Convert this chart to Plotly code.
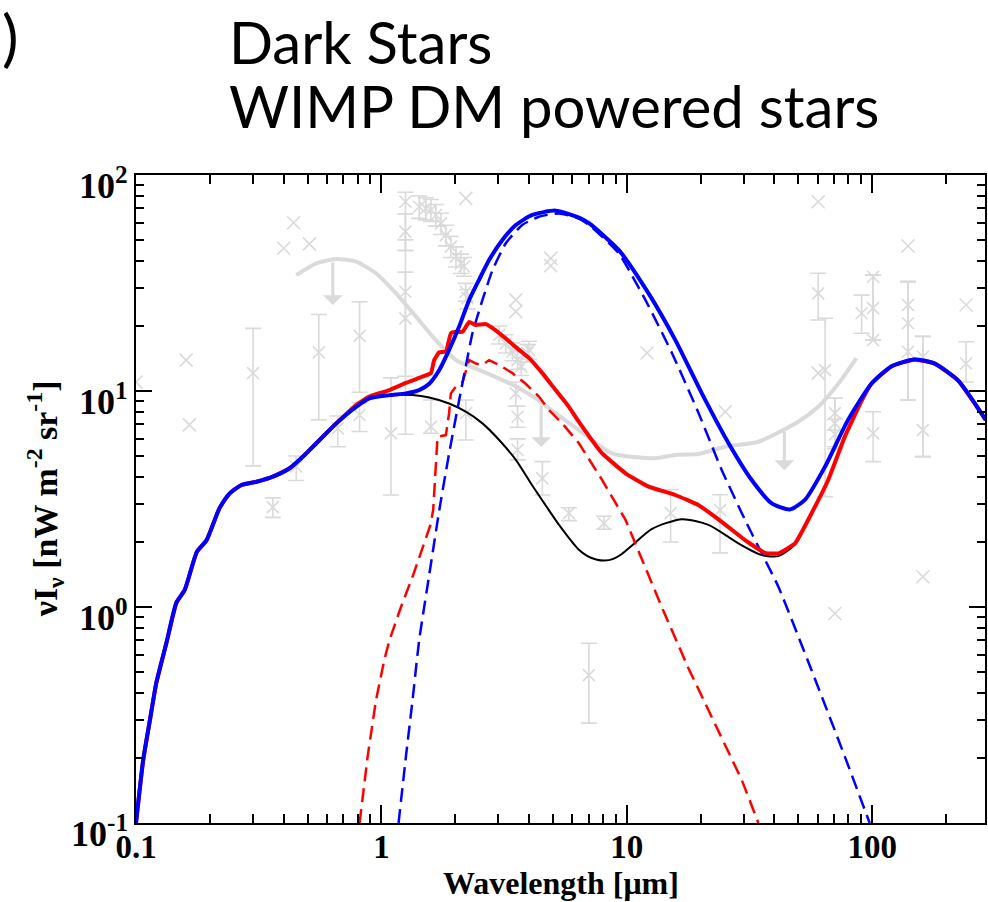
import math
import plotly.graph_objects as go

# ---------------- model spectra (wavelength in micron, nu I_nu in nW m^-2 sr^-1) -------------
wl_total_hi = [0.1, 0.107, 0.114, 0.121, 0.133, 0.146, 0.158, 0.177, 0.194, 0.219, 0.241, 0.269,
               0.310, 0.361, 0.423, 0.479, 0.543, 0.655, 0.789, 0.893, 1.079, 1.259, 1.426, 1.567,
               1.722, 1.888, 2.075, 2.280, 2.500, 2.748, 3.112, 3.532, 4.121, 5.129, 6.383, 7.015,
               9.268, 12.27, 15.78, 20.23, 26.0, 32.3, 39.0, 46.2, 53.2, 64.3, 79.8, 99.3, 119.7,
               148.9, 179.9, 223.9, 290.4]
flux_total_hi = [0.1, 0.196, 0.300, 0.445, 0.681, 1.045, 1.20, 1.80, 2.04, 2.87, 3.36, 3.67,
                 3.80, 4.01, 4.39, 4.97, 5.73, 7.08, 8.45, 9.25, 9.57, 9.75, 10.1, 10.8,
                 12.5, 15.5, 19.9, 26.4, 32.7, 40.4, 50.0, 58.7, 65.3, 68.4, 63.5, 59.8,
                 45.0, 28.3, 17.2, 9.75, 5.73, 3.87, 3.02, 2.83, 3.13, 4.47, 7.35, 10.8, 13.0,
                 14.0, 13.4, 11.2, 7.35]

wl_total_lo = [0.1, 0.107, 0.114, 0.121, 0.133, 0.146, 0.158, 0.177, 0.194, 0.219, 0.241, 0.269,
               0.310, 0.361, 0.423, 0.479, 0.543, 0.655, 0.789, 0.893, 1.079, 1.259, 1.426, 1.592,
               1.641, 1.722, 1.832, 1.919, 2.014, 2.143, 2.280, 2.427, 2.667, 2.924, 3.214, 3.639,
               4.000, 4.529, 5.129, 5.808, 6.383, 7.943, 9.886, 12.27, 15.78, 19.63, 24.38, 30.34,
               36.64, 41.5, 48.5, 56.6, 66.2, 77.4, 90.6, 99.3, 119.7, 148.9, 179.9, 223.9, 290.4]
flux_total_lo = [0.1, 0.196, 0.300, 0.445, 0.681, 1.045, 1.20, 1.80, 2.04, 2.87, 3.36, 3.67,
                 3.80, 4.01, 4.39, 4.97, 5.73, 7.08, 8.61, 9.42, 10.1, 10.9, 11.5, 12.1,
                 13.9, 15.1, 15.2, 18.5, 18.8, 18.8, 20.9, 20.2, 20.4, 19.1, 17.5, 15.5,
                 14.2, 12.1, 10.1, 8.45, 7.2, 5.14, 4.16, 3.61, 3.30, 2.96, 2.48, 2.04,
                 1.78, 1.77, 1.97, 2.71, 3.87, 6.15, 9.0, 10.8, 13.0, 14.0, 13.4, 11.2, 7.35]

wl_background = [0.1, 0.107, 0.114, 0.121, 0.133, 0.146, 0.158, 0.177, 0.194, 0.219, 0.241, 0.269,
                 0.310, 0.361, 0.423, 0.479, 0.543, 0.655, 0.789, 0.893, 1.079, 1.340, 1.567, 1.888,
                 2.208, 2.582, 3.020, 3.532, 4.121, 4.677, 5.297, 6.383, 6.92, 7.50, 8.13, 8.81,
                 9.55, 10.47, 12.68, 16.79, 21.53, 28.51, 35.48, 41.5, 48.5, 56.6, 66.2, 77.4,
                 90.6, 99.3, 119.7, 148.9, 179.9, 223.9, 290.4]
flux_background = [0.1, 0.196, 0.300, 0.445, 0.681, 1.045, 1.20, 1.80, 2.04, 2.87, 3.36, 3.67,
                   3.80, 4.01, 4.39, 4.97, 5.73, 7.08, 8.45, 9.25, 9.57, 9.57, 9.33, 8.75,
                   8.02, 7.08, 5.93, 4.80, 3.65, 2.95, 2.40, 1.84, 1.72, 1.66, 1.64, 1.67,
                   1.76, 1.92, 2.30, 2.55, 2.40, 1.97, 1.74, 1.72, 1.95, 2.70, 3.87, 6.15,
                   9.0, 10.8, 13.0, 14.0, 13.4, 11.2, 7.35]

wl_ds_lo = [0.815, 0.879, 0.951, 1.028, 1.079, 1.202, 1.349, 1.479, 1.585, 1.626, 1.667, 1.694,
            1.832, 1.888, 1.919, 2.014, 2.143, 2.280, 2.427, 2.582, 2.748, 3.020, 3.420, 3.873,
            4.385, 4.819, 5.458, 6.383, 7.943, 9.886, 11.56, 14.13, 17.78, 22.39, 29.44, 34.4]
flux_ds_lo = [0.1, 0.203, 0.371, 0.569, 0.703, 1.0, 1.41, 1.91, 2.40, 2.81, 4.80, 6.15,
              6.25, 7.89, 9.75, 10.5, 11.0, 13.9, 13.4, 13.2, 13.9, 13.2, 12.1, 10.8,
              9.42, 8.17, 7.08, 5.73, 3.87, 2.53, 1.65, 0.955, 0.525, 0.302, 0.158, 0.1]

wl_ds_hi = [1.175, 1.259, 1.340, 1.426, 1.567, 1.722, 1.888, 2.075, 2.208, 2.350, 2.582, 2.838,
            3.214, 3.750, 4.385, 5.297, 6.310, 7.015, 9.268, 11.91, 15.28, 19.63, 24.38, 30.34,
            36.64, 41.5, 56.6, 77.4, 97.7]
flux_ds_hi = [0.1, 0.203, 0.371, 0.703, 1.41, 2.81, 5.14, 9.08, 13.0, 18.5, 26.4, 36.3,
              48.3, 58.7, 64.1, 66.4, 63.1, 58.7, 43.4, 26.4, 15.0, 7.89, 4.31, 2.53,
              1.65, 1.24, 0.511, 0.203, 0.1]

# ---------------- observational limits and measurements -------------------------------------
wl_limit = [0.450, 0.543, 0.655, 0.789, 0.951, 1.148, 1.384, 1.667, 2.014, 2.427, 2.924, 3.532,
            4.256, 5.129, 6.383, 8.71, 13.06, 15.78, 19.63, 25.2, 34.4, 50.0, 60.3, 72.8, 86.3]
flux_limit = [34.4, 39.0, 40.8, 39.7, 35.1, 28.3, 22.1, 17.2, 13.9, 12.7, 11.6, 10.5,
              9.25, 7.89, 6.59, 5.14, 4.88, 5.06, 5.11, 5.52, 5.82, 7.21, 8.45, 10.8, 14.2]

arrow_wl = [0.634, 4.48, 43.9]
arrow_from = [40.0, 8.7, 6.6]
arrow_to = [25.0, 5.5, 4.3]

obs_wl = [0.300, 0.556, 0.815, 0.664, 0.815, 0.450, 0.361, 1.094, 1.253, 1.253, 1.253, 1.253,
          1.592, 1.426, 1.517, 1.592, 1.667, 1.750, 1.832, 1.919, 2.014, 2.109, 2.173, 2.208,
          2.244, 3.02, 3.21, 3.42, 3.59, 3.71, 3.94, 4.00, 3.53, 3.59, 3.59, 4.53, 2.21,
          7.01, 60.3, 64.3, 70.5, 70.5, 70.5, 90.6, 100.9, 100.9, 100.9, 100.9, 140.0, 140.0,
          140.0, 161.0, 161.0, 241.5, 5.81, 8.07, 15.1, 24.0]
obs_val = [12.1, 15.1, 18.0, 6.71, 7.74, 4.47, 2.90, 6.37, 75.2, 54.7, 28.8, 21.7,
           6.84, 71.3, 70.1, 68.9, 65.3, 59.7, 52.7, 46.6, 41.9, 39.0, 37.7, 28.8,
           26.9, 18.2, 16.6, 15.2, 13.9, 13.0, 15.0, 15.5, 9.75, 7.60, 5.33, 3.94, 7.89,
           0.484, 28.3, 12.5, 7.08, 7.9, 6.3, 22.9, 33.8, 24.2, 17.2, 6.37, 25.0, 20.6,
           15.2, 14.4, 6.59, 13.4, 2.72, 2.44, 2.72, 2.81]
obs_lo = [4.50, 7.35, 9.86, 5.52, 6.49, 3.85, 2.60, 3.30, 44.7, 44.7, 11.7, 6.31,
          6.37, 63.0, 62.0, 61.0, 58.0, 53.0, 47.0, 41.5, 37.5, 35.0, 34.0, 26.0,
          24.0, 16.5, 15.0, 13.8, 12.6, 11.8, 13.6, 14.0, 8.5, 6.8, 4.8, 3.30, 5.93,
          0.290, 21.3, 3.24, 5.52, 6.6, 5.4, 18.5, 17.2, 17.2, 17.2, 4.71, 9.08, 9.08,
          9.08, 4.97, 4.97, 11.0, 2.51, 2.29, 2.0, 1.78]
obs_hi = [19.5, 22.6, 25.9, 7.66, 8.83, 5.00, 3.20, 11.5, 83.2, 66.1, 50.1, 35.5,
          9.08, 80.0, 78.5, 77.0, 73.0, 66.5, 58.5, 52.0, 46.5, 43.0, 41.5, 31.5,
          29.5, 20.0, 18.2, 16.7, 15.3, 14.3, 16.4, 17.0, 11.0, 8.5, 6.0, 4.71, 9.08,
          0.679, 35.1, 21.7, 9.25, 9.25, 7.4, 27.8, 34.4, 34.4, 34.4, 8.02, 32.1, 32.1,
          32.1, 17.9, 17.9, 16.9, 2.88, 2.63, 3.5, 3.31]

single_wl = [0.1, 0.160, 0.165, 0.400, 0.439, 0.509, 2.208, 3.53, 3.53, 4.90, 4.90, 60.3,
             140.0, 60.3, 241.5, 12.1, 25.2, 161.0, 70.5]
single_val = [11.0, 13.9, 6.97, 45.8, 60.1, 48.0, 78.0, 26.4, 23.3, 41.1, 38.0, 75.2,
              46.9, 12.1, 25.0, 15.0, 8.02, 1.38, 0.933]

# ---------------- axis labelling -------------------------------------------------------------
x_major = [0.1, 1, 10, 100]
x_major_text = ["0.1", "1", "10", "100"]
x_minor = [0.2, 0.3, 0.4, 0.5, 0.6, 0.7, 0.8, 0.9, 2, 3, 4, 5, 6, 7, 8, 9,
           20, 30, 40, 50, 60, 70, 80, 90, 200]
y_major = [0.1, 1, 10, 100]
y_major_text = ["10<sup>-1</sup>", "10<sup>0</sup>", "10<sup>1</sup>", "10<sup>2</sup>"]
y_minor = [0.2, 0.3, 0.4, 0.5, 0.6, 0.7, 0.8, 0.9, 2, 3, 4, 5, 6, 7, 8, 9,
           20, 30, 40, 50, 60, 70, 80, 90]

GREY = "#dadada"
SERIF = "Liberation Serif"

fig = go.Figure()

# measurements with error bars
fig.add_trace(go.Scatter(
    x=obs_wl, y=obs_val, mode="markers",
    marker=dict(symbol="x-thin", size=12, line=dict(width=1.6, color=GREY)),
    error_y=dict(type="data", symmetric=False,
                 array=[h - v for h, v in zip(obs_hi, obs_val)],
                 arrayminus=[v - l for v, l in zip(obs_val, obs_lo)],
                 color=GREY, thickness=1.6, width=8),
    hoverinfo="skip"))
fig.add_trace(go.Scatter(
    x=single_wl, y=single_val, mode="markers",
    marker=dict(symbol="x-thin", size=13, line=dict(width=1.6, color=GREY)),
    hoverinfo="skip"))

# upper-limit curve
fig.add_trace(go.Scatter(x=wl_limit, y=flux_limit, mode="lines",
                         line=dict(color=GREY, width=4, shape="spline", smoothing=0.6)))

# model curves
fig.add_trace(go.Scatter(x=wl_background, y=flux_background, mode="lines",
                         line=dict(color="black", width=2, shape="spline", smoothing=0.7)))
fig.add_trace(go.Scatter(x=wl_ds_lo, y=flux_ds_lo, mode="lines",
                         line=dict(color="#ff0000", width=2.5, dash="14px,7px")))
fig.add_trace(go.Scatter(x=wl_ds_hi, y=flux_ds_hi, mode="lines",
                         line=dict(color="#0000ff", width=2.5, dash="14px,7px",
                                   shape="spline", smoothing=0.5)))
fig.add_trace(go.Scatter(x=wl_total_lo, y=flux_total_lo, mode="lines",
                         line=dict(color="#ff0000", width=4, shape="spline", smoothing=0.35)))
fig.add_trace(go.Scatter(x=wl_total_hi, y=flux_total_hi, mode="lines",
                         line=dict(color="#0000ff", width=4, shape="spline", smoothing=0.6)))

annotations = []

# downward arrows on the limit curve
for w, a, b in zip(arrow_wl, arrow_from, arrow_to):
    annotations.append(dict(
        x=math.log10(w), y=math.log10(b), ax=math.log10(w), ay=math.log10(a),
        xref="x", yref="y", axref="x", ayref="y", text="", showarrow=True,
        arrowhead=1, arrowsize=1.1, arrowwidth=3, arrowcolor=GREY))

# y tick labels
for v, t in zip(y_major, y_major_text):
    annotations.append(dict(
        x=0, xref="paper", y=math.log10(v), yref="y", text=t, showarrow=False,
        xanchor="right", yanchor="middle", xshift=-6, yshift=-8,
        font=dict(family=SERIF, size=36, color="black", weight="bold")))

# axis titles
annotations.append(dict(
    x=0.5, xref="paper", y=-0.0926, yref="paper", yanchor="middle",
    text="Wavelength [\u03bcm]", showarrow=False,
    font=dict(family=SERIF, size=32, color="black", weight="bold")))
annotations.append(dict(
    x=-0.108, xref="paper", y=0.5, yref="paper", xanchor="center", yanchor="middle",
    text="\u03bdI<sub>\u03bd</sub> [nW m<sup>-2</sup> sr<sup>-1</sup>]", textangle=-90,
    showarrow=False,
    font=dict(family=SERIF, size=34, color="black", weight="bold")))

# headings
annotations.append(dict(
    x=0, xref="paper", y=1, yref="paper", xanchor="left", yanchor="top",
    xshift=-136, yshift=178, text=")", showarrow=False,
    font=dict(family="Lato", size=62, color="black")))
annotations.append(dict(
    x=0.107, xref="paper", y=1, yref="paper", xanchor="left", yanchor="top",
    yshift=170, text="Dark Stars", showarrow=False,
    font=dict(family="Lato", size=58, color="black")))
annotations.append(dict(
    x=0.107, xref="paper", y=1, yref="paper", xanchor="left", yanchor="top",
    yshift=106, text="WIMP DM powered stars", showarrow=False,
    font=dict(family="Lato", size=58, color="black")))

axis_common = dict(
    type="log", showline=True, linecolor="black", linewidth=2, mirror="ticks",
    ticks="inside", tickwidth=2, tickcolor="black", showgrid=False, zeroline=False,
)

fig.update_layout(
    width=988, height=902,
    margin=dict(l=136, r=1, t=175, b=79),
    paper_bgcolor="white", plot_bgcolor="white",
    showlegend=False,
    annotations=annotations,
    xaxis=dict(axis_common, range=[-1, 2.46], ticklen=18,
               tickvals=x_major, ticktext=x_major_text, ticklabelstandoff=-7,
               tickfont=dict(family=SERIF, size=33, color="black", weight="bold"),
               minor=dict(ticks="inside", ticklen=9, tickwidth=2, tickcolor="black",
                          tickvals=x_minor)),
    yaxis=dict(axis_common, range=[-1, 2], ticklen=16, tickvals=y_major,
               showticklabels=False,
               minor=dict(ticks="inside", ticklen=8, tickwidth=2, tickcolor="black",
                          tickvals=y_minor)),
)

fig.write_html("out.html")
